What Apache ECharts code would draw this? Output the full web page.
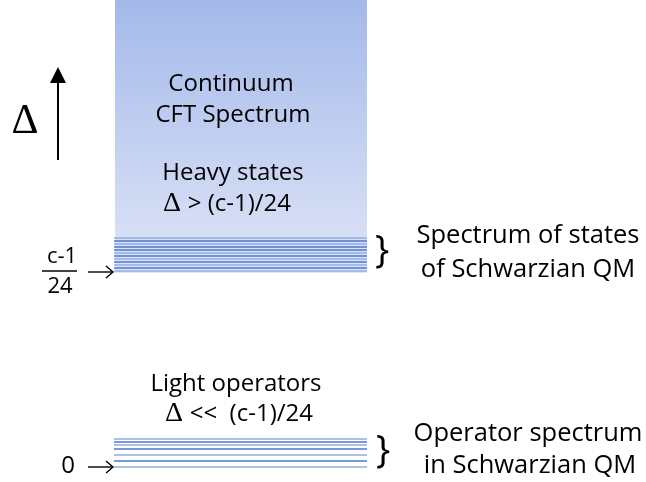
<!DOCTYPE html>
<html>
<head>
<meta charset="utf-8">
<script src="https://cdn.jsdelivr.net/npm/echarts@6/dist/echarts.min.js"></script>
<style>
  html, body { margin: 0; padding: 0; background: #fff; }
  #chart { width: 646px; height: 482px; }
</style>
</head>
<body>
<div id="chart"></div>
<script>
  // levels, measured as height above the bottom of the page
  var heavyLevels = [244, 241, 238, 235, 232, 229, 226, 223, 220, 217, 214, 211]
  var heavyShade = ['light', 'dark', 'light', 'dark', 'dark', 'light', 'dark', 'light', 'dark', 'light', 'dark', 'light']
  var lightLevels = [43, 40, 37, 33, 27, 21, 15]
  var lightShade = ['light', 'dark', 'light', 'dark', 'light', 'dark', 'light']
  // continuum band: from the lowest heavy level to the top
  var continuum = [209, 482]

  var bandX = [114, 367]
  var shades = { light: '#94ade0', dark: '#4a78cc' }

  function levelLines(levels, shade) {
    return levels.map(function (v, i) {
      return {
        coords: [[bandX[0], v], [bandX[1], v]],
        lineStyle: { color: shades[shade[i]] }
      }
    })
  }

  var font = '"Open Sans", "Noto Sans", sans-serif'
  function txt(text, x, y, size, extra) {
    var st = {
      text: text, x: x, y: y, fill: '#000',
      font: size + 'px ' + font,
      align: 'center', verticalAlign: 'middle'
    }
    if (extra) for (var k in extra) st[k] = extra[k]
    return { type: 'text', style: st, z: 10 }
  }
  var deltaRich = {
    d: { fontFamily: '"Liberation Serif", "DejaVu Serif", serif', fontSize: 28, fill: '#000' },
    t: { fontFamily: font, fontSize: 24, fill: '#000' }
  }

  var chart = echarts.init(document.getElementById('chart'))
  chart.setOption({
    animation: false,
    grid: { left: 0, right: 0, top: 0, bottom: 0 },
    xAxis: { type: 'value', min: 0, max: 646, show: false },
    yAxis: { type: 'value', min: 0, max: 482, show: false },
    series: [{
      type: 'lines',
      coordinateSystem: 'cartesian2d',
      polyline: false,
      silent: true,
      lineStyle: { width: 1.6, opacity: 1 },
      data: levelLines(heavyLevels, heavyShade).concat(levelLines(lightLevels, lightShade)),
      markArea: {
        silent: true,
        itemStyle: {
          color: new echarts.graphic.LinearGradient(0, 0, 0, 1, [
            { offset: 0, color: '#a4b9ea' },
            { offset: 1, color: '#dfe5f7' }
          ])
        },
        data: [[{ coord: [bandX[0] + 1, continuum[0]] }, { coord: [bandX[1], continuum[1]] }]]
      }
    }],
    graphic: [
      txt('Continuum', 231, 84, 24),
      txt('CFT Spectrum', 233, 115, 24),
      txt('Heavy states', 233, 173, 24),
      { type: 'text', z: 10, style: { text: '{d|Δ}  {t|> (c-1)/24}', x: 227, y: 204, align: 'center', verticalAlign: 'middle', rich: deltaRich } },
      txt('Light operators', 236, 384, 24),
      { type: 'text', z: 10, style: { text: '{d|Δ}  {t|<<  (c-1)/24}', x: 239, y: 414, align: 'center', verticalAlign: 'middle', rich: deltaRich } },
      txt('Spectrum of states', 528, 236, 25.5),
      txt('of Schwarzian QM', 528, 270, 25.5),
      txt('Operator spectrum', 528, 434, 25.5),
      txt('in Schwarzian QM', 530, 466, 25.5),
      txt('}', 382, 252, 38),
      txt('}', 383, 452, 38),
      txt('c-1', 62, 257, 22),
      txt('24', 60, 287, 22),
      { type: 'line', shape: { x1: 42, y1: 271, x2: 77, y2: 271 }, style: { stroke: '#000', lineWidth: 1.5 } },
      txt('0', 68, 466, 24),
      // small arrows pointing at the bands
      { type: 'line', shape: { x1: 88, y1: 272, x2: 113, y2: 272 }, style: { stroke: '#000', lineWidth: 1.4 } },
      { type: 'polyline', shape: { points: [[106, 266], [113, 272], [106, 278]] }, style: { stroke: '#000', lineWidth: 1.4, fill: null } },
      { type: 'line', shape: { x1: 88, y1: 467, x2: 113, y2: 467 }, style: { stroke: '#000', lineWidth: 1.4 } },
      { type: 'polyline', shape: { points: [[106, 461], [113, 467], [106, 473]] }, style: { stroke: '#000', lineWidth: 1.4, fill: null } },
      // big delta with upward arrow
      { type: 'text', z: 10, style: { text: 'Δ', x: 25, y: 122, fill: '#000', font: '42px "Liberation Serif", "DejaVu Serif", serif', align: 'center', verticalAlign: 'middle' } },
      { type: 'line', shape: { x1: 58, y1: 160, x2: 58, y2: 80 }, style: { stroke: '#000', lineWidth: 2 } },
      { type: 'polygon', shape: { points: [[50, 83], [58, 67], [66, 83]] }, style: { fill: '#000' } }
    ]
  })
</script>
</body>
</html>
